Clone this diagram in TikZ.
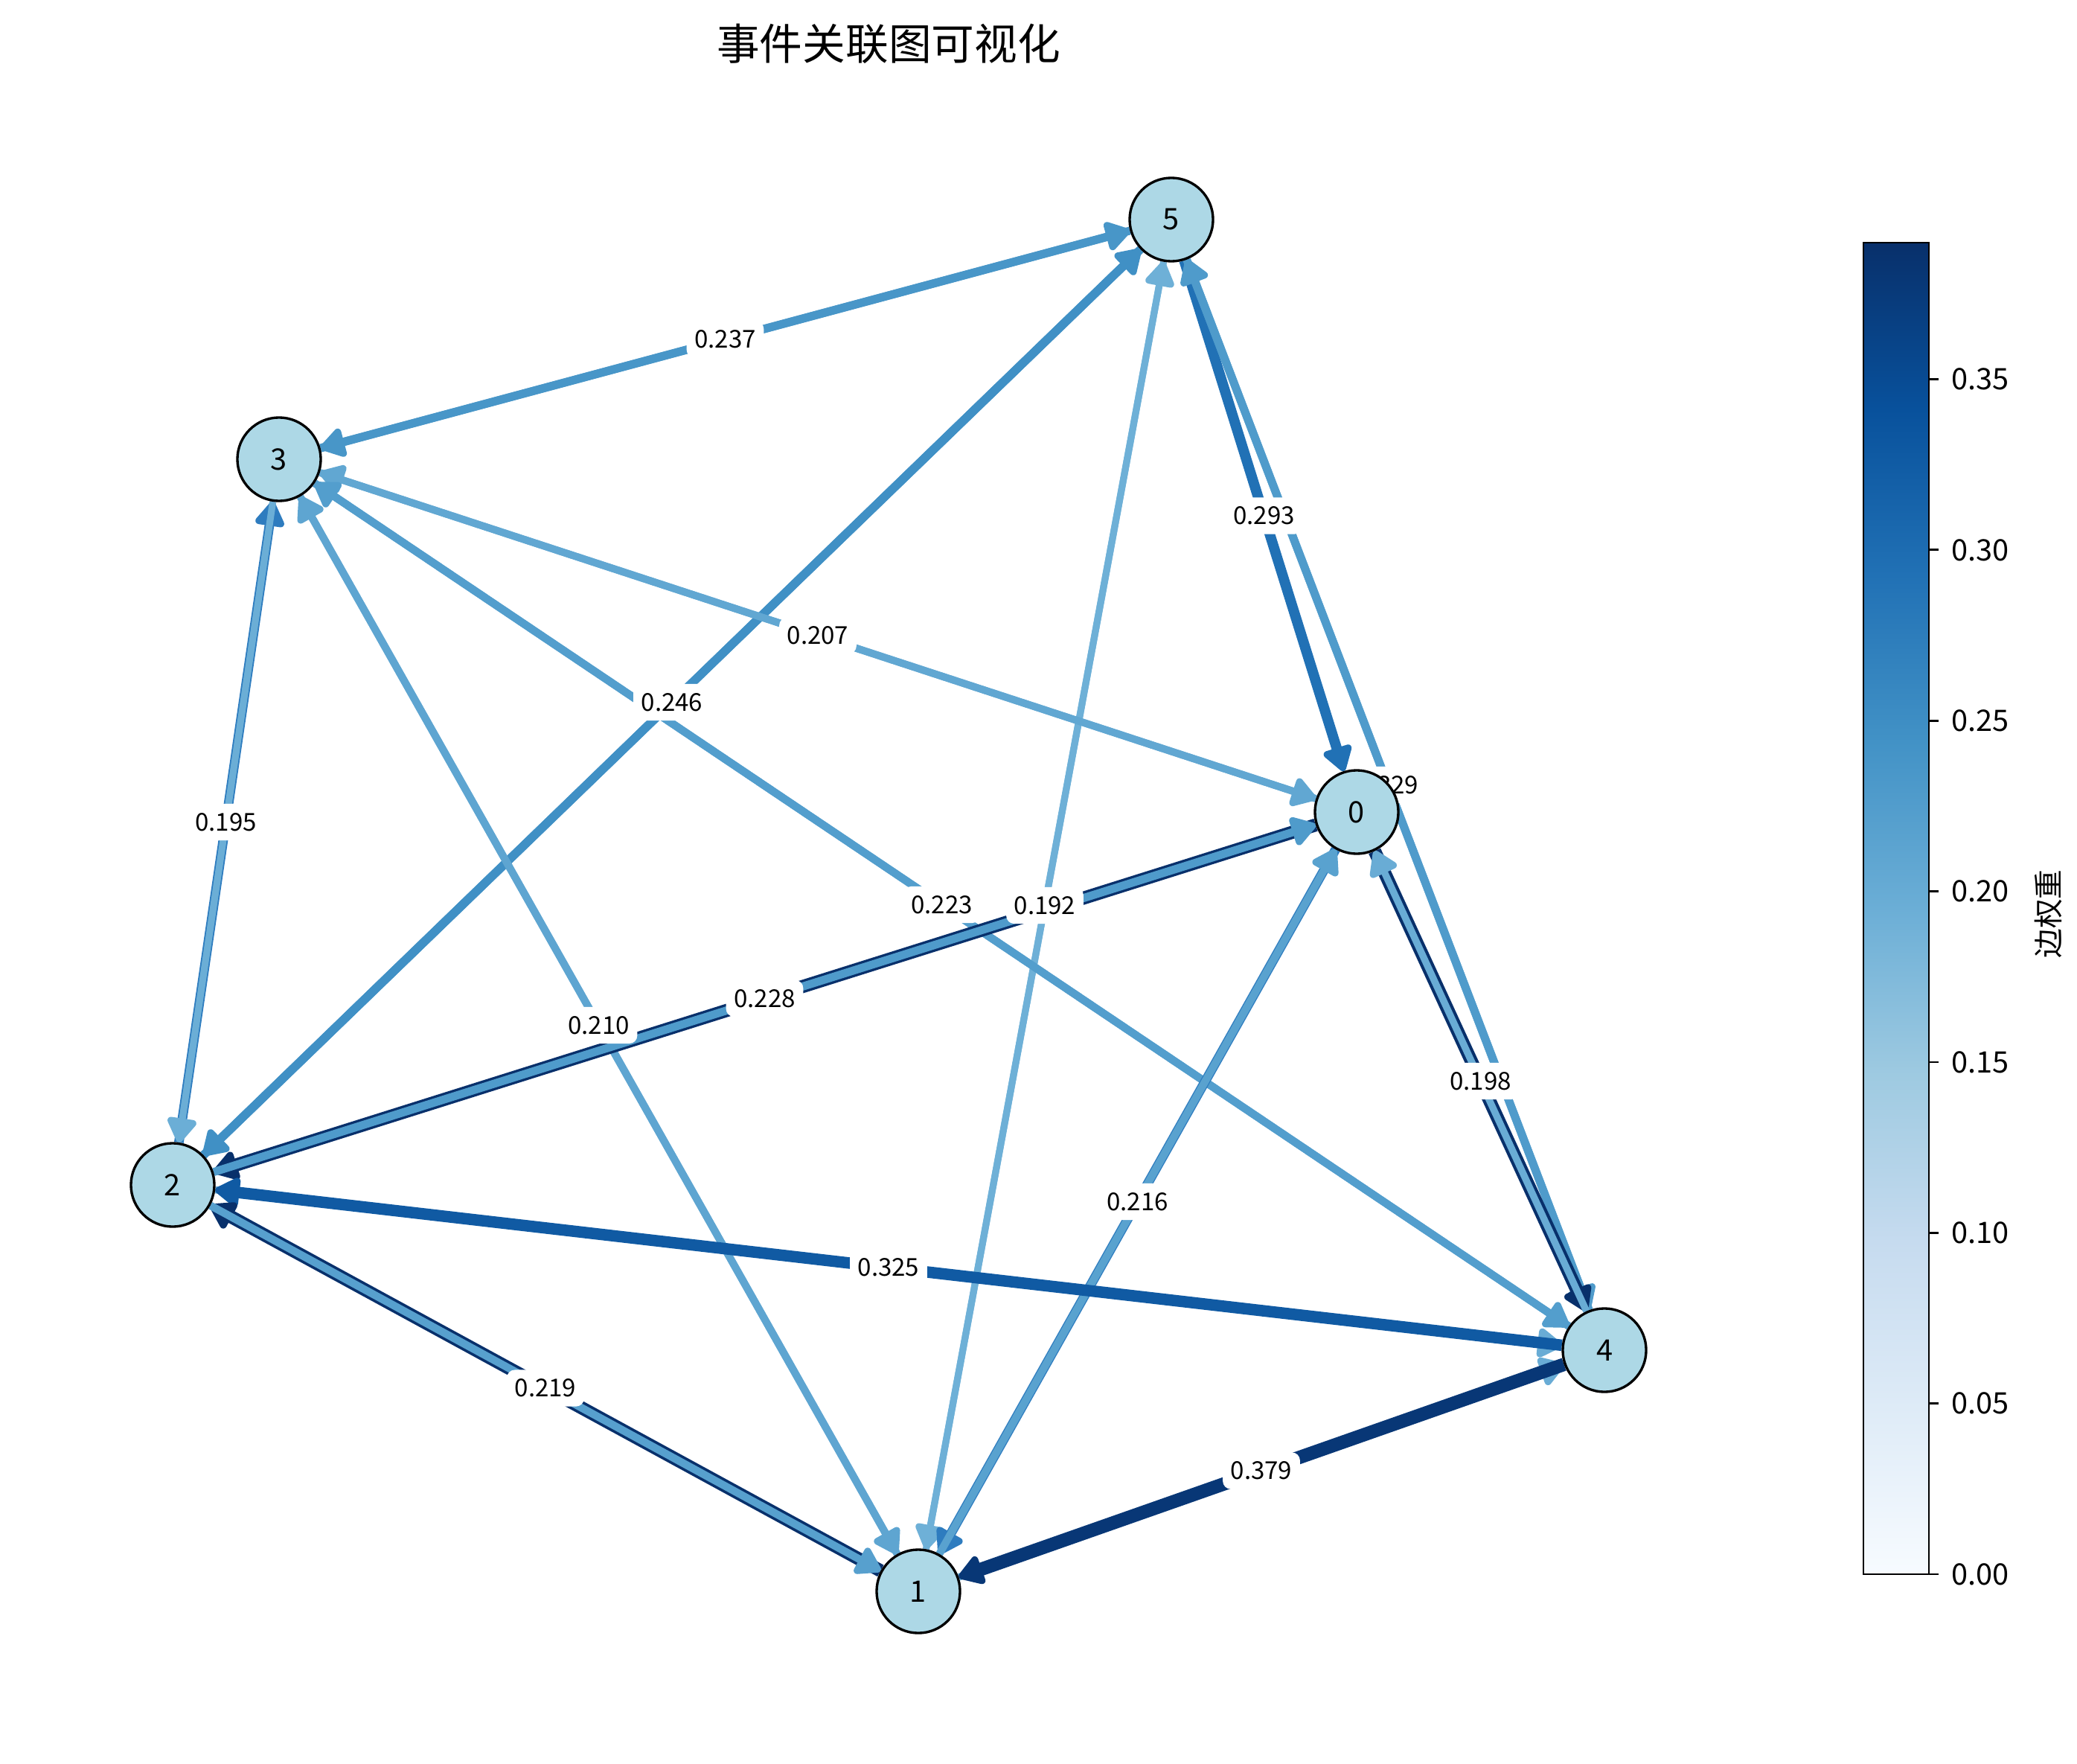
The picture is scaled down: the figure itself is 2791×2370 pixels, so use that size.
\documentclass[tikz,border=0pt]{standalone}
\usepackage{fontspec}
\setmainfont{Noto Sans CJK SC}
\usetikzlibrary{arrows.meta}

% Blues colour map
\definecolor{b0}{RGB}{247,251,255}
\definecolor{b1}{RGB}{222,235,247}
\definecolor{b2}{RGB}{198,219,239}
\definecolor{b3}{RGB}{158,202,225}
\definecolor{b4}{RGB}{107,174,214}
\definecolor{b5}{RGB}{66,146,198}
\definecolor{b6}{RGB}{33,113,181}
\definecolor{b7}{RGB}{8,81,156}
\definecolor{b8}{RGB}{8,48,107}
\pgfdeclareverticalshading{blues}{100bp}{color(0bp)=(b0); color(25bp)=(b0);
  color(31.25bp)=(b1); color(37.5bp)=(b2); color(43.75bp)=(b3); color(50bp)=(b4);
  color(56.25bp)=(b5); color(62.5bp)=(b6); color(68.75bp)=(b7); color(75bp)=(b8);
  color(100bp)=(b8)}

% edge colours by weight
\definecolor{vfill}{RGB}{173,216,230}
\definecolor{w192}{RGB}{110,176,215}
\definecolor{w195}{RGB}{107,174,214}
\definecolor{w198}{RGB}{105,172,213}
\definecolor{w207}{RGB}{97,167,210}
\definecolor{w210}{RGB}{94,165,209}
\definecolor{w216}{RGB}{89,162,207}
\definecolor{w219}{RGB}{87,160,206}
\definecolor{w223}{RGB}{83,158,205}
\definecolor{w228}{RGB}{79,155,203}
\definecolor{w237}{RGB}{72,150,200}
\definecolor{w246}{RGB}{64,144,197}
\definecolor{w270}{RGB}{46,124,191}
\definecolor{w293}{RGB}{33,113,181}
\definecolor{w325}{RGB}{16,90,163}
\definecolor{w379}{RGB}{8,55,118}
\definecolor{w390}{RGB}{8,48,107}

\pgfdeclarelayer{edgelayer}
\pgfdeclarelayer{labellayer}
\pgfsetlayers{edgelayer,labellayer,main}

\begin{document}
\begin{tikzpicture}[x=0.01cm, y=-0.01cm,
    vertex/.style={circle, draw=black, line width=0.95pt, fill=vfill,
      minimum size=1.12cm, inner sep=0pt, font=\fontsize{11.3}{13}\selectfont},
    link/.style={line width=#1, -{Triangle[round, length=10.5pt, width=12.5pt]}},
    wlabel/.style={midway, fill=white, rounded corners=3pt, inner xsep=3pt,
      inner ysep=3.5pt, font=\fontsize{9.4}{11}\selectfont},
    ticklabel/.style={anchor=west, inner sep=0pt, font=\fontsize{11.3}{13}\selectfont}]
  \useasboundingbox (0,0) rectangle (2791,2370);

  \node (title) at (1194,59) {\fontsize{16.4}{19}\selectfont 事件关联图可视化};

  % vertices
  \node[vertex] (n0) at (1823,1091) {0};
  \node[vertex] (n1) at (1234,2138) {1};
  \node[vertex] (n2) at (232,1592) {2};
  \node[vertex] (n3) at (375,617) {3};
  \node[vertex] (n4) at (2156,1814) {4};
  \node[vertex] (n5) at (1574,295) {5};

  % directed edges
  \begin{pgfonlayer}{edgelayer}
    \draw[link=3.1pt, w237] (n5) -- (n3);
    \draw[link=3.2pt, w237] (n3) -- (n5);
    \draw[link=3.25pt, w246] (n5) -- (n2);
    \draw[link=3.3pt, w246] (n2) -- (n5);
    \draw[link=3.95pt, w293] (n5) -- (n0);
    \draw[link=3.1pt, w228] (n5) -- (n4);
    \draw[link=3.1pt, w228] (n4) -- (n5);
    \draw[link=2.6pt, w192] (n5) -- (n1);
    \draw[link=2.6pt, w192] (n1) -- (n5);
    \draw[link=2.8pt, w207] (n0) -- (n3);
    \draw[link=2.8pt, w207] (n3) -- (n0);
    \draw[link=3.65pt, w270] (n2) -- (n3);
    \draw[link=2.6pt, w195] (n3) -- (n2);
    \draw[link=3pt, w223] (n4) -- (n3);
    \draw[link=3pt, w223] (n3) -- (n4);
    \draw[link=2.85pt, w210] (n1) -- (n3);
    \draw[link=2.85pt, w210] (n3) -- (n1);
    \draw[link=5pt, w390] (n0) -- (n2);
    \draw[link=3.1pt, w228] (n2) -- (n0);
    \draw[link=3.65pt, w270] (n0) -- (n1);
    \draw[link=2.9pt, w216] (n1) -- (n0);
    \draw[link=5pt, w390] (n0) -- (n4);
    \draw[link=2.65pt, w198] (n4) -- (n0);
    \draw[link=2.7pt, w198] (n2) -- (n4);
    \draw[link=4.4pt, w325] (n4) -- (n2);
    \draw[link=5pt, w390] (n1) -- (n2);
    \draw[link=2.95pt, w219] (n2) -- (n1);
    \draw[link=2.7pt, w198] (n1) -- (n4);
    \draw[link=5.1pt, w379] (n4) -- (n1);
  \end{pgfonlayer}

  % weights
  \begin{pgfonlayer}{labellayer}
    \path (n3) -- (n5) node[wlabel] (l35) {0.237};
    \path (n2) -- (n5) node[wlabel] (l25) {0.246};
    \path (n5) -- (n0) node[wlabel] (l50) {0.293};
    \path (n5) -- (n4) node[wlabel] (l54) {0.329};
    \path (n1) -- (n5) node[wlabel] (l15) {0.192};
    \path (n3) -- (n0) node[wlabel] (l30) {0.207};
    \path (n3) -- (n2) node[wlabel] (l32) {0.195};
    \path (n3) -- (n4) node[wlabel] (l34) {0.223};
    \path (n3) -- (n1) node[wlabel] (l31) {0.210};
    \path (n2) -- (n0) node[wlabel] (l20) {0.228};
    \path (n1) -- (n0) node[wlabel] (l10) {0.216};
    \path (n4) -- (n0) node[wlabel] (l40) {0.198};
    \path (n4) -- (n2) node[wlabel] (l42) {0.325};
    \path (n2) -- (n1) node[wlabel] (l21) {0.219};
    \path (n4) -- (n1) node[wlabel] (l41) {0.379};
  \end{pgfonlayer}

  % colour bar
  \shade[shading=blues] (2504,326) rectangle (2592,2115);
  \draw[line width=0.8pt] (2504,326) rectangle (2592,2115);
  \foreach \i/\t in {0/0.00, 1/0.05, 2/0.10, 3/0.15, 4/0.20, 5/0.25, 6/0.30, 7/0.35} {
    \draw[line width=0.8pt] (2592,{2115-229.36*\i}) -- (2605,{2115-229.36*\i});
    \node[ticklabel] (t\i) at (2622,{2115-229.36*\i}) {\t};
  }
  \node[rotate=90, font=\fontsize{11.3}{13}\selectfont] (cblabel) at (2752,1228) {边权重};
\end{tikzpicture}
\end{document}
